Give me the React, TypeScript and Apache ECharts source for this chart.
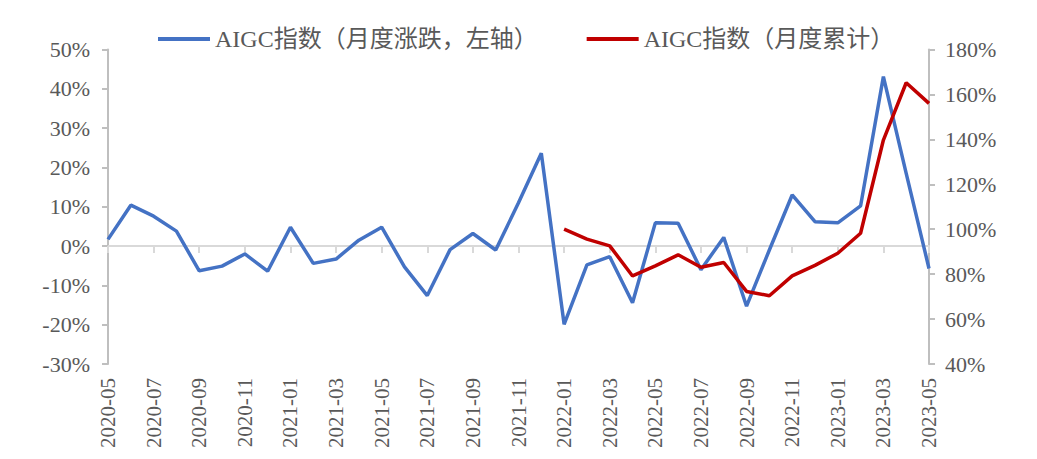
import React, { useEffect, useRef } from "react";
import * as echarts from "echarts";

const categories: string[] = [
  "2020-05", "2020-06", "2020-07", "2020-08", "2020-09", "2020-10", "2020-11", "2020-12",
  "2021-01", "2021-02", "2021-03", "2021-04", "2021-05", "2021-06", "2021-07", "2021-08",
  "2021-09", "2021-10", "2021-11", "2021-12", "2022-01", "2022-02", "2022-03", "2022-04",
  "2022-05", "2022-06", "2022-07", "2022-08", "2022-09", "2022-10", "2022-11", "2022-12",
  "2023-01", "2023-02", "2023-03", "2023-04", "2023-05",
];

// AIGC指数（月度涨跌，左轴） in %
const monthlyChange: number[] = [
  1.7, 10.4, 7.6, 3.8, -6.3, -5.1, -2.0, -6.4,
  4.8, -4.4, -3.3, 1.5, 4.8, -5.3, -12.6, -0.9,
  3.2, -1.0, 11.0, 23.6, -19.9, -4.8, -2.7, -14.4,
  5.9, 5.8, -6.0, 2.2, -15.3, -1.0, 13.0, 6.2,
  5.9, 10.2, 43.1, 18.5, -5.7,
];

// AIGC指数（月度累计） in %
const cumulative: (number | null)[] = [
  null, null, null, null, null, null, null, null,
  null, null, null, null, null, null, null, null,
  null, null, null, null, 100.0, 95.6, 92.6, 79.2,
  83.7, 88.6, 83.1, 85.2, 72.3, 70.4, 79.2, 83.9,
  89.3, 98.2, 139.7, 165.2, 156.0,
];

const seriesNames: string[] = ["AIGC指数（月度涨跌，左轴）", "AIGC指数（月度累计）"];

const FONT = "'Liberation Serif', 'Times New Roman', 'Noto Sans CJK SC', serif";
const TEXT = "#595959";
const BLUE = "#4472C4";
const RED = "#C00000";

export default function App() {
  const ref = useRef<HTMLDivElement>(null);

  useEffect(() => {
    if (!ref.current) return;
    const chart = echarts.init(ref.current, undefined, { renderer: "svg" });
    chart.setOption({
      animation: false,
      backgroundColor: "#ffffff",
      textStyle: { fontFamily: FONT },
      legend: {
        left: 153,
        top: 22,
        itemWidth: 52,
        itemHeight: 4,
        itemGap: 49,
        icon: "rect",
        textStyle: { fontFamily: FONT, fontSize: 24, color: TEXT },
        data: [
          { name: seriesNames[0], icon: "rect", itemStyle: { color: BLUE } },
          { name: seriesNames[1], icon: "rect", itemStyle: { color: RED } },
        ],
      },
      grid: {
        left: 108,
        right: 108,
        top: 49.5,
        bottom: 95,
        containLabel: false,
        outerBoundsMode: "none",
      },
      xAxis: [
        {
          type: "category",
          data: categories,
          boundaryGap: false,
          position: "bottom",
          axisLine: { show: false, onZero: false },
          axisTick: { show: false },
          axisLabel: {
            interval: 1,
            rotate: 90,
            margin: 14,
            fontFamily: FONT,
            fontSize: 21,
            color: TEXT,
          },
          splitLine: { show: false },
        },
        {
          type: "category",
          data: categories,
          boundaryGap: false,
          position: "bottom",
          axisLine: {
            show: true,
            onZero: true,
            onZeroAxisIndex: 0,
            lineStyle: { color: "#d9d9d9", width: 2 },
          },
          axisTick: {
            show: true,
            interval: 1,
            length: 7,
            lineStyle: { color: "#d9d9d9", width: 2 },
          },
          axisLabel: { show: false },
          splitLine: { show: false },
        },
      ],
      yAxis: [
        {
          type: "value",
          min: -30,
          max: 50,
          interval: 10,
          position: "left",
          axisLine: { show: true, lineStyle: { color: "#bfbfbf", width: 2 } },
          axisTick: { show: true, length: 6, lineStyle: { color: "#bfbfbf", width: 2 } },
          axisLabel: {
            formatter: "{value}%",
            margin: 18,
            fontFamily: FONT,
            fontSize: 22,
            color: TEXT,
          },
          splitLine: { show: false },
        },
        {
          type: "value",
          min: 40,
          max: 180,
          interval: 20,
          position: "right",
          axisLine: { show: true, lineStyle: { color: "#bfbfbf", width: 2 } },
          axisTick: { show: true, length: 6, lineStyle: { color: "#bfbfbf", width: 2 } },
          axisLabel: {
            formatter: "{value}%",
            margin: 16,
            fontFamily: FONT,
            fontSize: 22,
            color: TEXT,
          },
          splitLine: { show: false },
        },
      ],
      series: [
        {
          name: seriesNames[0],
          type: "line",
          xAxisIndex: 0,
          yAxisIndex: 0,
          data: monthlyChange,
          symbol: "none",
          lineStyle: { color: BLUE, width: 3.5 },
          itemStyle: { color: BLUE },
          z: 3,
        },
        {
          name: seriesNames[1],
          type: "line",
          xAxisIndex: 0,
          yAxisIndex: 1,
          data: cumulative,
          symbol: "none",
          connectNulls: false,
          lineStyle: { color: RED, width: 3.5 },
          itemStyle: { color: RED },
          z: 4,
        },
      ],
    });
    return () => chart.dispose();
  }, []);

  return (
    <div
      ref={ref}
      style={{ position: "fixed", left: 0, top: 0, width: 1037, height: 459 }}
    />
  );
}
